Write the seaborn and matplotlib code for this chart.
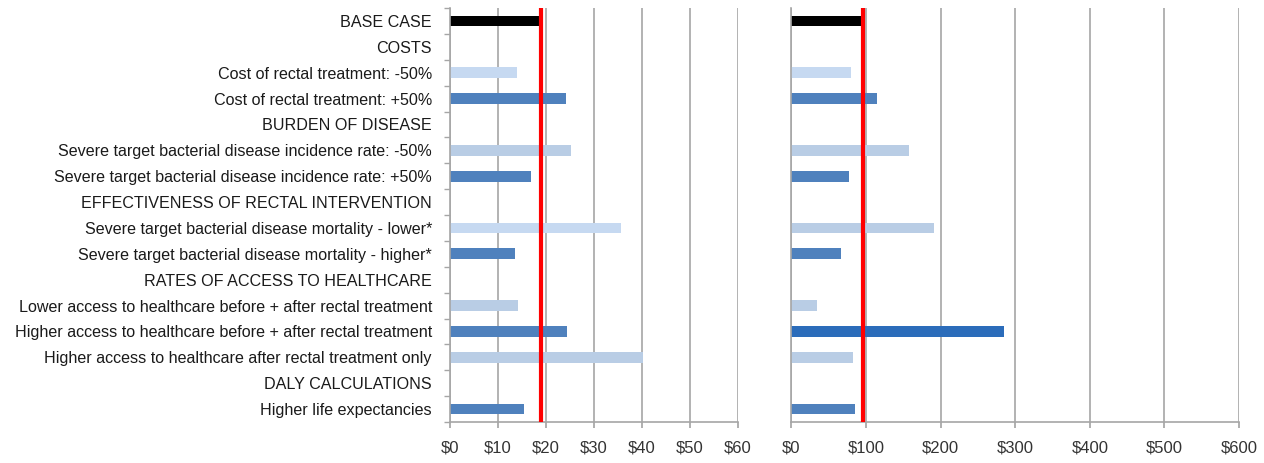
import matplotlib
matplotlib.use("Agg")
import matplotlib.pyplot as plt
import seaborn as sns
import pandas as pd
import numpy as np

sns.set_theme(style="white")
plt.rcParams['font.family'] = ['Liberation Sans', 'DejaVu Sans']

# Rows top to bottom (header rows have no bar)
categories = [
    'BASE CASE',
    'COSTS',
    'Cost of rectal treatment: -50%',
    'Cost of rectal treatment: +50%',
    'BURDEN OF DISEASE',
    'Severe target bacterial disease incidence rate: -50%',
    'Severe target bacterial disease incidence rate: +50%',
    'EFFECTIVENESS OF RECTAL INTERVENTION',
    'Severe target bacterial disease mortality - lower*',
    'Severe target bacterial disease mortality - higher*',
    'RATES OF ACCESS TO HEALTHCARE',
    'Lower access to healthcare before + after rectal treatment',
    'Higher access to healthcare before + after rectal treatment',
    'Higher access to healthcare after rectal treatment only',
    'DALY CALCULATIONS',
    'Higher life expectancies',
]
headers = ['COSTS', 'BURDEN OF DISEASE', 'EFFECTIVENESS OF RECTAL INTERVENTION',
           'RATES OF ACCESS TO HEALTHCARE', 'DALY CALCULATIONS']

scenarios = [c for c in categories if c not in headers]
left_values = [19.0, 13.9, 24.2, 25.3, 16.9, 35.6, 13.5, 14.1, 24.4, 40.3, 15.5]
right_values = [96, 80, 114, 157, 77, 191, 66, 34, 285, 83, 85]
left_colors = ['#000000', '#C6D9F1', '#4F81BD', '#B9CDE5', '#4F81BD', '#C6D9F1',
               '#4F81BD', '#B9CDE5', '#4F81BD', '#B9CDE5', '#4F81BD']
right_colors = ['#000000', '#C6D9F1', '#4F81BD', '#B9CDE5', '#4F81BD', '#B9CDE5',
                '#4F81BD', '#B9CDE5', '#2B6CBA', '#B9CDE5', '#4F81BD']
base_left = 19.0
base_right = 96

left_ticks = [0, 10, 20, 30, 40, 50, 60]
right_ticks = [0, 100, 200, 300, 400, 500, 600]

fig = plt.figure(figsize=(12.64, 4.63), dpi=100)
W, H = 1264, 463
ax1 = fig.add_axes([450 / W, 1 - 422 / H, 288 / W, 414 / H])
ax2 = fig.add_axes([791.5 / W, 1 - 422 / H, 447.5 / W, 414 / H])

panels = [
    (ax1, left_values, left_colors, base_left, left_ticks),
    (ax2, right_values, right_colors, base_right, right_ticks),
]

for ax, vals, cols, base, ticks in panels:
    df = pd.DataFrame({'Scenario': scenarios, 'Value': vals})
    pal = dict(zip(scenarios, cols))
    sns.barplot(data=df, x='Value', y='Scenario', hue='Scenario', order=categories,
                hue_order=scenarios, palette=pal, legend=False, width=0.42,
                linewidth=0, saturation=1, ax=ax)
    ax.axvline(base, color='#FF0000', lw=3, zorder=5)
    ax.set_xlim(ticks[0], ticks[-1])
    ax.set_ylim(len(categories) - 0.5, -0.5)
    ax.set_xticks(ticks)
    ax.set_xticklabels(['$' + str(t) for t in ticks], fontsize=12, color='#333333')
    ax.grid(axis='x', color='#A6A6A6', lw=1.2)
    ax.set_axisbelow(True)
    ax.set_xlabel('')
    ax.set_ylabel('')
    for s in ['top', 'right']:
        ax.spines[s].set_visible(False)
    for s in ['left', 'bottom']:
        ax.spines[s].set_color('#A6A6A6')
        ax.spines[s].set_linewidth(1.2)
    ax.tick_params(axis='x', which='major', bottom=True, length=4, color='#A6A6A6',
                   pad=9)

ax1.set_yticks(range(len(categories)))
ax1.set_yticklabels(categories, fontsize=11.6, color='#1A1A1A')
ax1.set_yticks(np.arange(-0.5, len(categories), 1), minor=True)
ax1.tick_params(axis='y', which='major', length=0, pad=13)
ax1.tick_params(axis='y', which='minor', left=True, length=4, color='#A6A6A6')

ax2.set_yticks([])

fig.savefig('out.png', dpi=100)
